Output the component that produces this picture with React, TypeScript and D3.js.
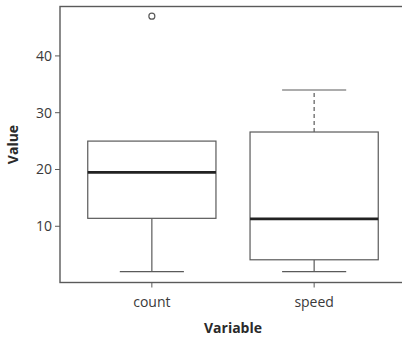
import React from "react";
import * as d3 from "d3";

const categories = ["count", "speed"];
const q1 = [11.4, 4.1];
const medians = [19.5, 11.3];
const q3 = [25.0, 26.6];
const whiskerLow = [2, 2];
const whiskerHigh = [25, 34];
const outliers: number[][] = [[47], []];
const yTicks = [10, 20, 30, 40];

const W = 402;
const H = 338;
const left = 60;
const right = 406;
const top = 6.5;
const bottom = 282.5;
const FONT = "'Open Sans', Lato, sans-serif";
const TEXT = "#3a3a3a";
const LINE = "#5a5a5a";

export default function App() {
  const y = d3.scaleLinear().domain([0.1, 48.7]).range([bottom, top]);
  const x = d3.scalePoint<string>().domain(categories).range([left, right]).padding(0.566);
  const step = x.step();
  const boxW = step * 0.79;
  const capW = boxW / 2;
  const dashedUpper = [false, true];

  return (
    <svg width={W} height={H} style={{ position: "absolute", left: 0, top: 0, background: "#fff" }}>
      <rect x={left} y={top} width={right - left} height={bottom - top} fill="none" stroke={LINE} strokeWidth={1.4} />
      {yTicks.map((t) => (
        <g key={t}>
          <line x1={left - 5} x2={left} y1={y(t)} y2={y(t)} stroke={LINE} strokeWidth={1} />
          <text x={left - 8} y={y(t)} dy="0.35em" textAnchor="end" fontFamily={FONT} fontSize={14} fill={TEXT}>
            {t}
          </text>
        </g>
      ))}
      {categories.map((c) => (
        <g key={c}>
          <line x1={x(c)!} x2={x(c)!} y1={bottom} y2={bottom + 5} stroke={LINE} strokeWidth={1} />
          <text x={x(c)!} y={bottom + 24} textAnchor="middle" fontFamily={FONT} fontSize={14} fill={TEXT}>
            {c}
          </text>
        </g>
      ))}
      {categories.map((c, i) => {
        const cx = x(c)!;
        return (
          <g key={c}>
            <line x1={cx} x2={cx} y1={y(q1[i])} y2={y(whiskerLow[i])} stroke={LINE} strokeWidth={1.2} />
            <line x1={cx} x2={cx} y1={y(q3[i])} y2={y(whiskerHigh[i])} stroke={LINE} strokeWidth={1.2}
              strokeDasharray={dashedUpper[i] ? "4,3" : undefined} />
            <line x1={cx - capW / 2} x2={cx + capW / 2} y1={y(whiskerLow[i])} y2={y(whiskerLow[i])} stroke={LINE} strokeWidth={1.2} />
            {whiskerHigh[i] > q3[i] && (
              <line x1={cx - capW / 2} x2={cx + capW / 2} y1={y(whiskerHigh[i])} y2={y(whiskerHigh[i])} stroke={LINE} strokeWidth={1.2} />
            )}
            <rect x={cx - boxW / 2} y={y(q3[i])} width={boxW} height={y(q1[i]) - y(q3[i])} fill="#fff" stroke={LINE} strokeWidth={1.2} />
            <line x1={cx - boxW / 2} x2={cx + boxW / 2} y1={y(medians[i])} y2={y(medians[i])} stroke="#222" strokeWidth={2.6} />
            {outliers[i].map((o, k) => (
              <circle key={k} cx={cx} cy={y(o)} r={3} fill="none" stroke={LINE} strokeWidth={1.2} />
            ))}
          </g>
        );
      })}
      <text x={(left + right) / 2} y={333} textAnchor="middle" fontFamily={FONT} fontWeight="bold" fontSize={14} fill="#2a2a2a">
        Variable
      </text>
      <text transform={`translate(18,${(top + bottom) / 2}) rotate(-90)`} textAnchor="middle" fontFamily={FONT} fontWeight="bold" fontSize={14} fill="#2a2a2a">
        Value
      </text>
    </svg>
  );
}
